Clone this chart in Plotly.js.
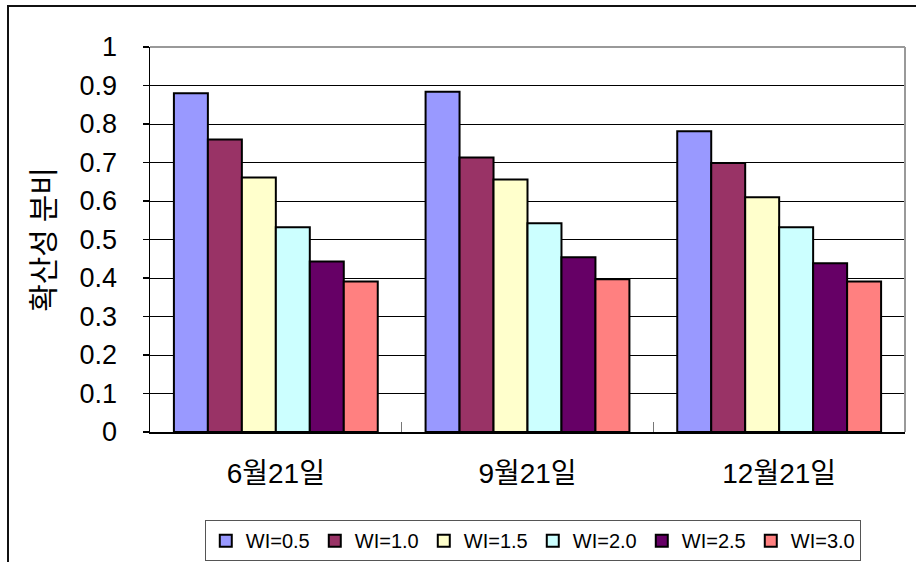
<!DOCTYPE html>
<html>
<head>
<meta charset="utf-8">
<script src="https://cdn.plot.ly/plotly-3.0.1.min.js"></script>
<style>
  html, body { margin: 0; padding: 0; background: #fff; overflow: hidden; }
  #wrap { position: relative; width: 916px; height: 562px; }
  #chart { position: absolute; left: 0; top: 0; width: 916px; height: 562px; }
  #frame { position: absolute; left: 7px; top: 5px; width: 920px; height: 570px;
           border: 2px solid #111; pointer-events: none; box-sizing: border-box; }
</style>
</head>
<body>
<div id="wrap">
  <div id="chart"></div>
  <div id="frame"></div>
</div>
<script>
// ---- data ----
const categories = ["6월21일", "9월21일", "12월21일"];
const seriesNames = ["WI=0.5", "WI=1.0", "WI=1.5", "WI=2.0", "WI=2.5", "WI=3.0"];
const wi05 = [0.880, 0.884, 0.781];
const wi10 = [0.760, 0.713, 0.699];
const wi15 = [0.661, 0.656, 0.610];
const wi20 = [0.532, 0.542, 0.532];
const wi25 = [0.443, 0.454, 0.438];
const wi30 = [0.391, 0.397, 0.391];
const yTitle = "확산성 분비";

const seriesValues = [wi05, wi10, wi15, wi20, wi25, wi30];
const colors = ["#9999FF", "#993366", "#FFFFCC", "#CCFFFF", "#660066", "#FF8080"];

const FONT = "Liberation Sans, Arial, Noto Sans CJK KR, sans-serif";

const traces = seriesNames.map((name, i) => ({
  type: "bar",
  name: name,
  x: categories,
  y: seriesValues[i],
  marker: { color: colors[i], line: { color: "#000", width: 2 } },
  hoverinfo: "skip"
}));

const layout = {
  width: 916,
  height: 562,
  margin: { l: 150, r: 11, t: 47, b: 130, autoexpand: false },
  paper_bgcolor: "#fff",
  plot_bgcolor: "#fff",
  font: { family: FONT, color: "#000" },
  barmode: "group",
  bargap: 0.19,
  bargroupgap: 0,
  showlegend: true,
  legend: {
    orientation: "h",
    x: 0.507, xanchor: "center",
    y: -0.229, yanchor: "top",
    font: { family: FONT, size: 20, color: "#000" },
    bordercolor: "#555",
    borderwidth: 1,
    bgcolor: "#fff",
    entrywidth: 64,
    itemclick: false,
    tracegroupgap: 0
  },
  xaxis: {
    type: "category",
    showline: true, linecolor: "#000", linewidth: 1.5,
    ticks: "inside", tickson: "boundaries", ticklen: 10, tickcolor: "#777", tickwidth: 1.5,
    tickfont: { family: FONT, size: 28, color: "#000" },
    ticklabelstandoff: 16,
    showgrid: false, zeroline: false, fixedrange: true
  },
  yaxis: {
    range: [0, 1],
    dtick: 0.1, tick0: 0,
    showline: true, linecolor: "#000", linewidth: 1.5,
    ticks: "outside", ticklen: 6, tickcolor: "#000", tickwidth: 1.5,
    tickfont: { family: FONT, size: 27, color: "#000" },
    ticklabelstandoff: 20,
    showgrid: true, gridcolor: "#000", gridwidth: 1,
    zeroline: false, fixedrange: true,
    title: { text: yTitle, font: { family: "Noto Sans CJK KR, sans-serif", size: 30, color: "#000" }, standoff: 16 }
  },
  shapes: [
    { type: "line", xref: "paper", yref: "paper", x0: 0, x1: 1, y0: 1, y1: 1,
      line: { color: "#999", width: 2 } },
    { type: "line", xref: "paper", yref: "paper", x0: 1, x1: 1, y0: 0, y1: 1,
      line: { color: "#999", width: 2 } }
  ]
};

Plotly.newPlot("chart", traces, layout, { displayModeBar: false, staticPlot: true });
</script>
</body>
</html>
